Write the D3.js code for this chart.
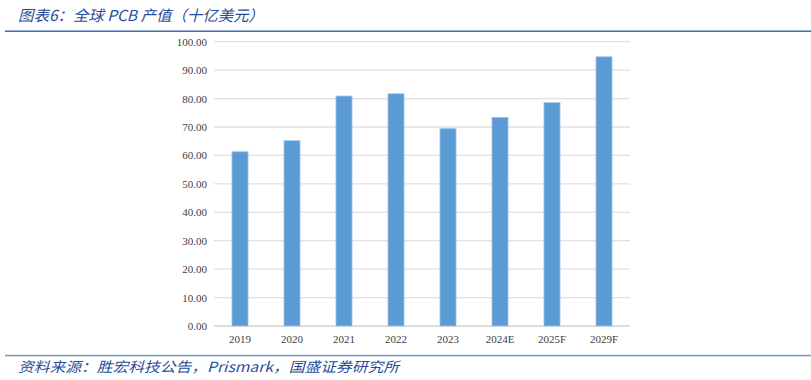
<!DOCTYPE html>
<html><head><meta charset="utf-8">
<script src="https://cdn.jsdelivr.net/npm/d3@7"></script>
<style>body{margin:0;background:#fff}</style>
</head><body>
<script>
const categories = ["2019","2020","2021","2022","2023","2024E","2025F","2029F"];
const values = [61.3, 65.2, 80.9, 81.7, 69.5, 73.4, 78.6, 94.7];
const yTicks = [0,10,20,30,40,50,60,70,80,90,100];
const titleText = "图表6：全球 PCB 产值（十亿美元）";
const sourceText = "资料来源：胜宏科技公告，Prismark，国盛证券研究所";

const W = 811, H = 380;
const svg = d3.select("body").append("svg").attr("width", W).attr("height", H);

// header / footer
svg.append("text").attr("x", 18).attr("y", 21)
  .attr("font-family", "'Noto Sans CJK SC', sans-serif").attr("font-size", 15)
  .attr("font-style", "italic").attr("fill", "#1f4e9a")
  .attr("textLength", 246).attr("lengthAdjust", "spacingAndGlyphs")
  .text(titleText);
svg.append("rect").attr("x", 5).attr("y", 30.5).attr("width", W - 5).attr("height", 1.5).attr("fill", "#3b6bb5");
svg.append("rect").attr("x", 5).attr("y", 354.8).attr("width", W - 5).attr("height", 1.5).attr("fill", "#6d95c8");
svg.append("text").attr("x", 18).attr("y", 372)
  .attr("font-family", "'Noto Sans CJK SC', sans-serif").attr("font-size", 14)
  .attr("font-style", "italic").attr("fill", "#1f4e9a")
  .attr("textLength", 381).attr("lengthAdjust", "spacingAndGlyphs")
  .text(sourceText);

const x = d3.scaleBand().domain(categories).range([214, 630]).paddingInner(0.69).paddingOuter(0.345);
const y = d3.scaleLinear().domain([0, 100]).range([326, 41.7]);

const g = svg.append("g");
// grid
g.selectAll("line.grid").data(yTicks).join("line")
  .attr("x1", 214).attr("x2", 630)
  .attr("y1", d => y(d)).attr("y2", d => y(d))
  .attr("stroke", d => d === 0 ? "#d0d0d0" : "#e0e0e0").attr("stroke-width", 1.3);

// y axis labels
const yAxis = d3.axisLeft(y).tickValues(yTicks).tickFormat(d3.format(".2f")).tickSize(0).tickPadding(7);
const ya = svg.append("g").attr("transform", "translate(214,0)").call(yAxis);
ya.select(".domain").remove();
ya.selectAll("text").attr("font-family", "'Liberation Serif', serif").attr("font-size", 11).attr("fill", "#404040");

// x axis labels
const xAxis = d3.axisBottom(x).tickSize(0).tickPadding(9);
const xa = svg.append("g").attr("transform", "translate(0,326)").call(xAxis);
xa.select(".domain").remove();
xa.selectAll("text").attr("font-family", "'Liberation Serif', serif").attr("font-size", 11).attr("fill", "#404040");

// bars
g.selectAll("rect.bar").data(values).join("rect")
  .attr("x", (d, i) => x(categories[i]))
  .attr("width", x.bandwidth())
  .attr("y", d => y(d))
  .attr("height", d => y(0) - y(d))
  .attr("fill", "#5b9bd5")
  .attr("stroke", "#a9c9ea").attr("stroke-width", 0.8);
</script>
</body></html>
